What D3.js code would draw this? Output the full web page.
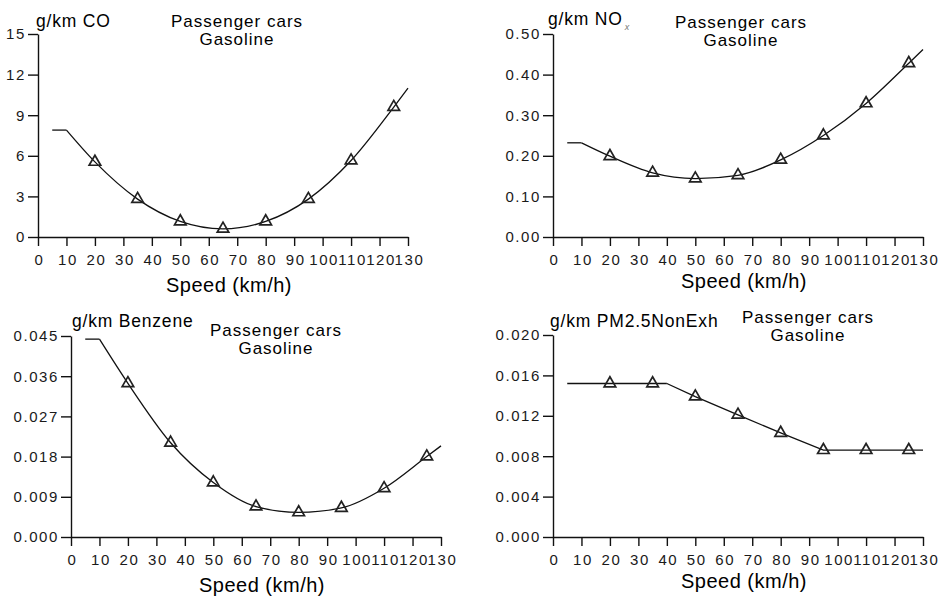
<!DOCTYPE html>
<html>
<head>
<meta charset="utf-8">
<script src="https://cdn.jsdelivr.net/npm/d3@7"></script>
<style>
  body { margin: 0; background: #fff; }
  svg { display: block; font-family: "Liberation Sans", Arial, sans-serif; }
  .tick text { font-size: 15px; letter-spacing: 1.6px; fill: #1a1a1a; }
  .domain, .tick line { stroke: #111; stroke-width: 1.4; }
</style>
</head>
<body>
<div id="chart-container"></div>
<script>
// speeds where the triangle markers sit
const markerSpeeds = [20, 35, 50, 65, 80, 95, 110, 125];

// CO (g/km)
const coSpeeds = [5, 10, 20, 35, 50, 65, 80, 95, 110, 125, 130];
const coValues = [7.9, 7.9, 5.55, 2.8, 1.15, 0.6, 1.15, 2.8, 5.65, 9.6, 11.0];
const coTicks = [0, 3, 6, 9, 12, 15];

// NOx (g/km)
const noxSpeeds = [5, 10, 20, 35, 50, 65, 80, 95, 110, 125, 130];
const noxValues = [0.232, 0.232, 0.199, 0.158, 0.144, 0.152, 0.19, 0.25, 0.329, 0.428, 0.462];
const noxTicks = [0, 0.1, 0.2, 0.3, 0.4, 0.5];

// Benzene (g/km)
const benzSpeeds = [5, 10, 20, 35, 50, 65, 80, 95, 110, 125, 130];
const benzValues = [0.0443, 0.0443, 0.0344, 0.0211, 0.0122, 0.0068, 0.0055, 0.0065, 0.0109, 0.018, 0.0204];
const benzTicks = [0, 0.009, 0.018, 0.027, 0.036, 0.045];

// PM2.5 non-exhaust (g/km)
const pmSpeeds = [5, 20, 35, 40, 50, 65, 80, 95, 110, 125, 130];
const pmValues = [0.0152, 0.0152, 0.0152, 0.0152, 0.0139, 0.0121, 0.0103, 0.0086, 0.0086, 0.0086, 0.0086];
const pmTicks = [0, 0.004, 0.008, 0.012, 0.016, 0.02];

const speedTicks = [0, 10, 20, 30, 40, 50, 60, 70, 80, 90, 100, 110, 120, 130];

const svgWidth = 940;
const svgHeight = 599;

const svg = d3.select('#chart-container')
    .append('svg')
    .attr('width', svgWidth)
    .attr('height', svgHeight);

// one entry per small chart: where it sits and how it is labelled
const panels = [
  {speeds: coSpeeds, values: coValues, ticks: coTicks, fmt: d3.format('d'), flatUntil: 10,
   left: 38, top: 34, w: 370, h: 203, unit: 'g/km CO', unitX: 36, unitY: 27,
   capX: 237, capY: 27, xlabY: 292, smooth: true},
  {speeds: noxSpeeds, values: noxValues, ticks: noxTicks, fmt: d3.format('.2f'), flatUntil: 10,
   left: 553, top: 34, w: 370, h: 203, unit: 'g/km NO', sub: 'x', unitX: 548, unitY: 25,
   capX: 741, capY: 28, xlabY: 288, smooth: true},
  {speeds: benzSpeeds, values: benzValues, ticks: benzTicks, fmt: d3.format('.3f'), flatUntil: 10,
   left: 71, top: 336, w: 370, h: 201, unit: 'g/km Benzene', unitX: 72, unitY: 327,
   capX: 276, capY: 336, xlabY: 592, smooth: true},
  {speeds: pmSpeeds, values: pmValues, ticks: pmTicks, fmt: d3.format('.3f'), flatUntil: 40,
   left: 553, top: 335, w: 370, h: 202, unit: 'g/km PM2.5NonExh', unitX: 550, unitY: 327,
   capX: 808, capY: 323, xlabY: 588, smooth: false}
];

panels.forEach(function(p) {
  const g = svg.append('g')
      .attr('transform', 'translate(' + p.left + ',' + p.top + ')');

  const x = d3.scaleLinear().domain([0, 130]).range([0, p.w]);
  const y = d3.scaleLinear().domain([0, d3.max(p.ticks)]).range([p.h, 0]);

  g.append('g')
      .attr('transform', 'translate(0,' + p.h + ')')
      .call(d3.axisBottom(x).tickValues(speedTicks).tickSizeInner(9).tickSizeOuter(0).tickPadding(8))
      .selectAll('text').attr('dx', '1px');

  g.append('g')
      .call(d3.axisLeft(y).tickValues(p.ticks).tickFormat(p.fmt).tickSizeInner(10).tickSizeOuter(0).tickPadding(2));

  const pts = p.speeds.map(function(s, i) { return {s: s, v: p.values[i]}; });

  const flatLine = d3.line()
      .x(function(d) { return x(d.s); })
      .y(function(d) { return y(d.v); });

  const curveLine = d3.line()
      .curve(p.smooth ? d3.curveMonotoneX : d3.curveLinear)
      .x(function(d) { return x(d.s); })
      .y(function(d) { return y(d.v); });

  g.append('path')
      .datum(pts.filter(function(d) { return d.s <= p.flatUntil; }))
      .attr('fill', 'none')
      .attr('stroke', '#111')
      .attr('stroke-width', 1.3)
      .attr('d', flatLine);

  g.append('path')
      .datum(pts.filter(function(d) { return d.s >= p.flatUntil; }))
      .attr('fill', 'none')
      .attr('stroke', '#111')
      .attr('stroke-width', 1.3)
      .attr('d', curveLine);

  g.selectAll('.marker')
      .data(pts.filter(function(d) { return markerSpeeds.indexOf(d.s) >= 0; }))
      .enter()
      .append('path')
      .attr('class', 'marker')
      .attr('transform', function(d) { return 'translate(' + x(d.s) + ',' + y(d.v) + ')'; })
      .attr('d', d3.symbol(d3.symbolTriangle, 58))
      .attr('fill', 'none')
      .attr('stroke', '#222')
      .attr('stroke-width', 1.7);

  // unit label in the corner
  const unit = svg.append('text')
      .attr('x', p.unitX)
      .attr('y', p.unitY)
      .attr('font-size', 17.5)
      .attr('letter-spacing', 0.8)
      .text(p.unit);
  if (p.sub) {
    unit.append('tspan')
        .attr('dy', 5)
        .attr('dx', 2)
        .attr('font-size', 9)
        .attr('font-style', 'italic')
        .attr('fill', '#777')
        .text(p.sub);
  }

  svg.append('text')
      .attr('x', p.capX)
      .attr('y', p.capY)
      .attr('text-anchor', 'middle')
      .attr('font-size', 17)
      .attr('letter-spacing', 1)
      .text('Passenger cars');

  svg.append('text')
      .attr('x', p.capX)
      .attr('y', p.capY + 18)
      .attr('text-anchor', 'middle')
      .attr('font-size', 17)
      .attr('letter-spacing', 1)
      .text('Gasoline');

  svg.append('text')
      .attr('x', p.left + p.w / 2 + 6)
      .attr('y', p.xlabY)
      .attr('text-anchor', 'middle')
      .attr('font-size', 20)
      .attr('letter-spacing', 0.5)
      .text('Speed (km/h)');
});
</script>
</body>
</html>
